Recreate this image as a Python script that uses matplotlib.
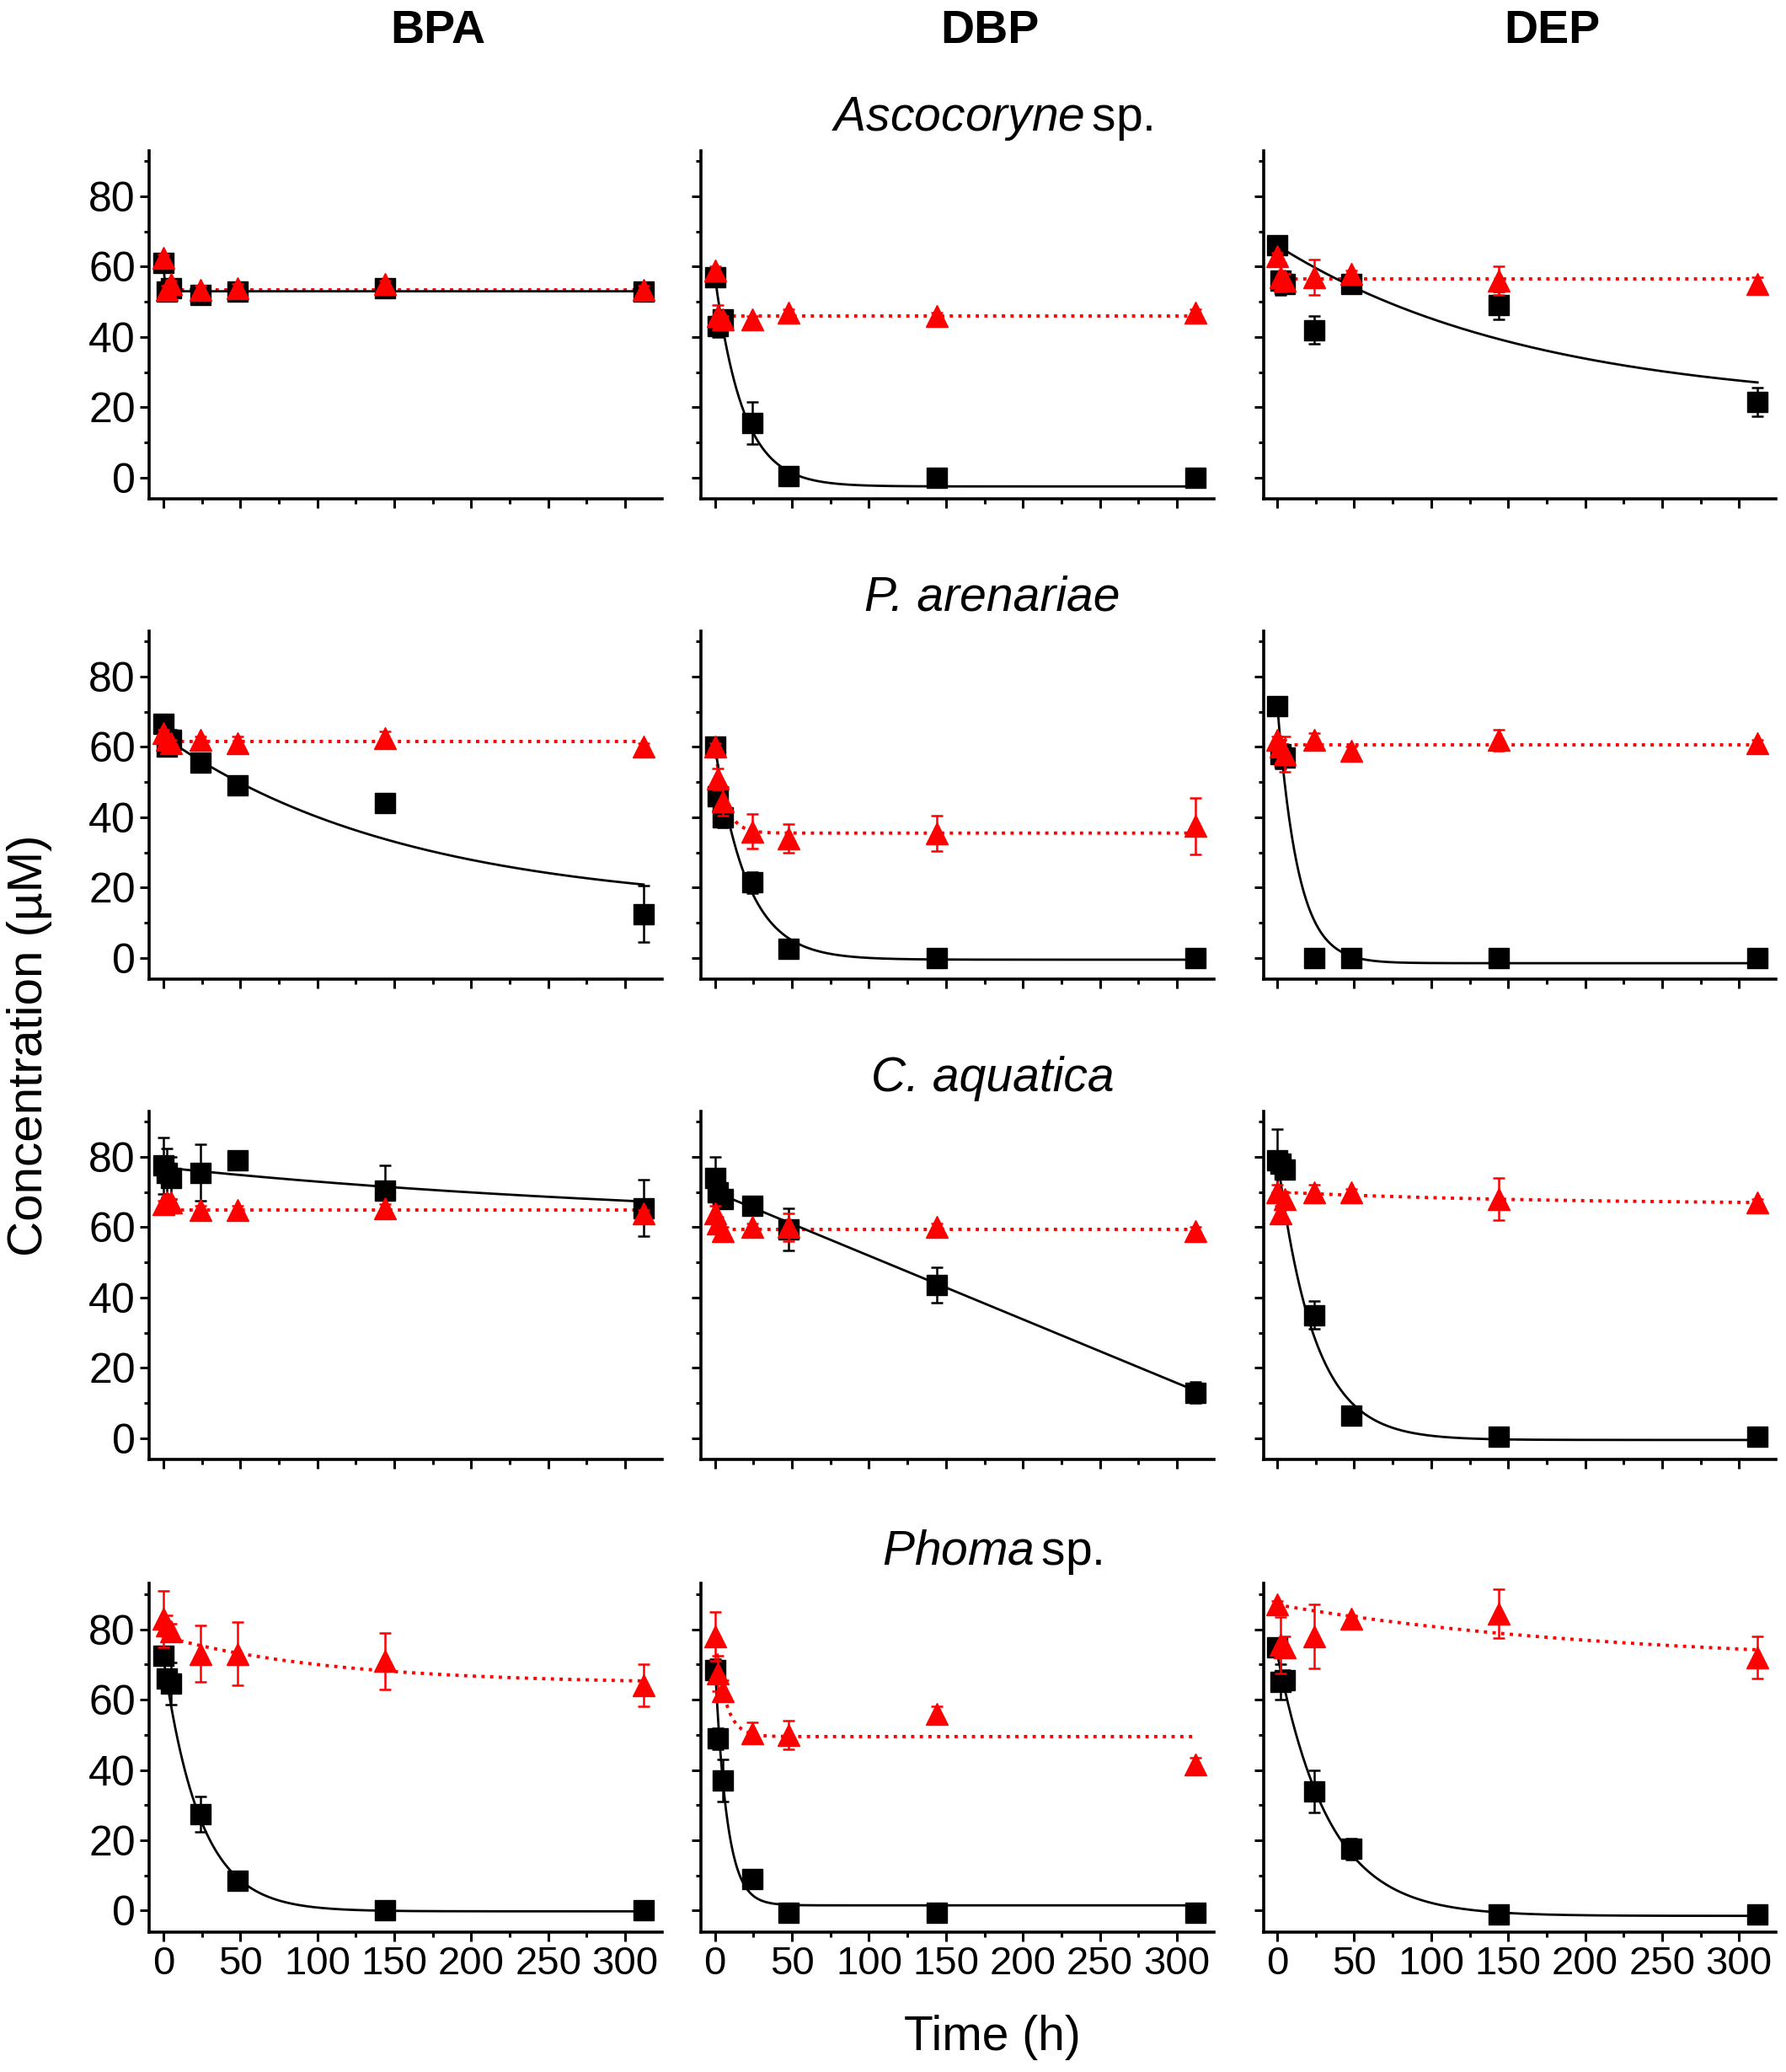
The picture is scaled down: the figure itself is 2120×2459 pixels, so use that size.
import numpy as np
import matplotlib.pyplot as plt
from matplotlib.ticker import MultipleLocator

plt.rcParams['font.family'] = ['Liberation Sans', 'DejaVu Sans']
plt.rcParams['mathtext.fontset'] = 'custom'
plt.rcParams['mathtext.it'] = 'Liberation Sans:italic'
plt.rcParams['mathtext.rm'] = 'Liberation Sans'

# sampling times (h)
times = [0, 2, 5, 24, 48, 144, 312]

compounds = ['BPA', 'DBP', 'DEP']
species = [r'$\mathit{Ascocoryne}\,$sp.', 'P. arenariae',
           'C. aquatica', r'$\mathit{Phoma}\,$sp.']
species_italic = [False, True, True, False]

# black squares = culture, red triangles = control
# fits: (start value, plateau, rate k, linear slope)

# --- Ascocoryne sp. ---
asco_bpa_black = [61, 53, 54, 52, 53, 54, 53]
asco_bpa_black_err = [1.5, 1, 1, 1, 1, 1, 1]
asco_bpa_red = [62.5, 53.5, 55, 53.5, 54, 55, 53.5]
asco_bpa_red_err = [1, 1, 1, 1, 1, 1, 1]
asco_bpa_fit_black = (61, 53, 1.0, 0)
asco_bpa_fit_red = (53.5, 53.5, 0, 0)

asco_dbp_black = [57, 43, 45, 15.5, 0.5, 0, 0]
asco_dbp_black_err = [1, 3, 2, 6, 0.5, 0.5, 0.5]
asco_dbp_red = [59, 46, 45, 45, 47, 46, 47]
asco_dbp_red_err = [1, 3, 1, 1, 1, 1, 1]
asco_dbp_fit_black = (57, -2.5, 0.055, 0)
asco_dbp_fit_red = (46, 46, 0, 0)

asco_dep_black = [66, 56, 55, 42, 55, 49, 21.5]
asco_dep_black_err = [1, 4, 2, 4, 1, 4, 4]
asco_dep_red = [63, 57, 56, 57, 58, 56, 55]
asco_dep_red_err = [1, 4, 2, 5, 1, 4, 2]
asco_dep_fit_black = (66, 20, 0.006, 0)
asco_dep_fit_red = (56.5, 56.5, 0, 0)

# --- P. arenariae ---
pare_bpa_black = [66.5, 60, 62, 55.5, 49, 44, 12.5]
pare_bpa_black_err = [1, 2, 3, 1, 1, 1, 8]
pare_bpa_red = [64, 62, 61, 62, 61, 62.5, 60]
pare_bpa_red_err = [1, 1, 1, 1, 2, 2, 1]
pare_bpa_fit_black = (63, 14, 0.0063, 0)
pare_bpa_fit_red = (61.5, 61.5, 0, 0)

pare_dbp_black = [60, 46, 40, 21.5, 2.5, 0, 0]
pare_dbp_black_err = [1, 4, 3, 3, 1, 0.5, 0.5]
pare_dbp_red = [60, 51, 44.5, 36, 34, 35.5, 37.5]
pare_dbp_red_err = [1, 3, 4, 5, 4, 5, 8]
pare_dbp_fit_black = (60, -0.5, 0.048, 0)
pare_dbp_fit_red = (60, 35.5, 0.15, 0)

pare_dep_black = [71.5, 58, 57, 0, 0, 0, 0]
pare_dep_black_err = [1, 4, 2, 0.5, 0.5, 0.5, 0.5]
pare_dep_red = [62, 60, 58, 62, 59, 62, 61]
pare_dep_red_err = [1, 2, 5, 2, 1, 3, 1]
pare_dep_fit_black = (72, -1.5, 0.075, 0)
pare_dep_fit_red = (60.5, 60.5, 0, 0)

# --- C. aquatica ---
caq_bpa_black = [77.5, 75.5, 74, 75.5, 79, 70.5, 65.5]
caq_bpa_black_err = [8, 7, 6, 8, 1, 7, 8]
caq_bpa_red = [66.5, 67, 67, 65, 65, 65.5, 64]
caq_bpa_red_err = [1, 1, 1, 1, 1, 1, 1]
caq_bpa_fit_black = (77, 60, 0.0027, 0)
caq_bpa_fit_red = (65, 65, 0, 0)

caq_dbp_black = [74, 70, 68, 66, 59.5, 43.5, 13]
caq_dbp_black_err = [6, 3, 2, 1, 6, 5, 3]
caq_dbp_red = [64, 61, 59, 60, 60, 60, 59]
caq_dbp_red_err = [2, 2, 1, 1, 4, 1, 1]
caq_dbp_fit_black = (70, 70, 0, -0.181)
caq_dbp_fit_red = (59.5, 59.5, 0, 0)

caq_dep_black = [79, 78, 76.5, 35, 6.5, 0.5, 0.5]
caq_dep_black_err = [9, 3, 2, 4, 1.5, 0.5, 0.5]
caq_dep_red = [70, 64, 68, 70, 70, 68, 67]
caq_dep_red_err = [2, 2, 2, 2, 1, 6, 1]
caq_dep_fit_black = (80, -0.5, 0.042, 0)
caq_dep_fit_red = (70, 66.5, 0.006, 0)

# --- Phoma sp. ---
phoma_bpa_black = [72.5, 66, 64.5, 27.5, 8.5, 0, 0]
phoma_bpa_black_err = [2, 2, 6, 5, 1, 0.5, 0.5]
phoma_bpa_red = [83, 81, 79.5, 73, 73, 71, 64]
phoma_bpa_red_err = [8, 3, 2, 8, 9, 8, 6]
phoma_bpa_fit_black = (72, -0.2, 0.042, 0)
phoma_bpa_fit_red = (78, 64.5, 0.009, 0)

phoma_dbp_black = [68.5, 49, 37, 9, -0.5, -0.5, -0.5]
phoma_dbp_black_err = [3, 3, 6, 1, 0.5, 0.5, 0.5]
phoma_dbp_red = [78, 67.5, 62.5, 50.5, 50, 56, 41.5]
phoma_dbp_red_err = [7, 5, 3, 3, 4, 2, 2]
phoma_dbp_fit_black = (70, 1.5, 0.13, 0)
phoma_dbp_fit_red = (78, 49.5, 0.15, 0)

phoma_dep_black = [75, 65, 65.5, 34, 17.5, -1, -1]
phoma_dep_black_err = [1, 5, 3, 6, 3, 0.5, 0.5]
phoma_dep_red = [87, 75.5, 75, 78, 83, 84.5, 72]
phoma_dep_red_err = [1, 8, 3, 9, 1, 7, 6]
phoma_dep_fit_black = (73, -1.5, 0.03, 0)
phoma_dep_fit_red = (87, 70, 0.0045, 0)

panels = [
    [(asco_bpa_black, asco_bpa_black_err, asco_bpa_red, asco_bpa_red_err, asco_bpa_fit_black, asco_bpa_fit_red),
     (asco_dbp_black, asco_dbp_black_err, asco_dbp_red, asco_dbp_red_err, asco_dbp_fit_black, asco_dbp_fit_red),
     (asco_dep_black, asco_dep_black_err, asco_dep_red, asco_dep_red_err, asco_dep_fit_black, asco_dep_fit_red)],
    [(pare_bpa_black, pare_bpa_black_err, pare_bpa_red, pare_bpa_red_err, pare_bpa_fit_black, pare_bpa_fit_red),
     (pare_dbp_black, pare_dbp_black_err, pare_dbp_red, pare_dbp_red_err, pare_dbp_fit_black, pare_dbp_fit_red),
     (pare_dep_black, pare_dep_black_err, pare_dep_red, pare_dep_red_err, pare_dep_fit_black, pare_dep_fit_red)],
    [(caq_bpa_black, caq_bpa_black_err, caq_bpa_red, caq_bpa_red_err, caq_bpa_fit_black, caq_bpa_fit_red),
     (caq_dbp_black, caq_dbp_black_err, caq_dbp_red, caq_dbp_red_err, caq_dbp_fit_black, caq_dbp_fit_red),
     (caq_dep_black, caq_dep_black_err, caq_dep_red, caq_dep_red_err, caq_dep_fit_black, caq_dep_fit_red)],
    [(phoma_bpa_black, phoma_bpa_black_err, phoma_bpa_red, phoma_bpa_red_err, phoma_bpa_fit_black, phoma_bpa_fit_red),
     (phoma_dbp_black, phoma_dbp_black_err, phoma_dbp_red, phoma_dbp_red_err, phoma_dbp_fit_black, phoma_dbp_fit_red),
     (phoma_dep_black, phoma_dep_black_err, phoma_dep_red, phoma_dep_red_err, phoma_dep_fit_black, phoma_dep_fit_red)],
]


def fit_curve(fit, t):
    y0, plateau, k, slope = fit
    return plateau + (y0 - plateau) * np.exp(-k * t) + slope * t


fig = plt.figure(figsize=(21.2, 24.59), dpi=100)

col_left = [0.0837, 0.3926, 0.7074]
row_bottom = [0.7593, 0.5275, 0.2957, 0.0677]
w, h = 0.287, 0.168
tt = np.linspace(0, max(times), 400)

for r in range(4):
    for c in range(3):
        black, black_err, red, red_err, fit_b, fit_r = panels[r][c]
        ax = fig.add_axes([col_left[c], row_bottom[r], w, h])

        ax.plot(tt, fit_curve(fit_r, tt), color='red', ls=':', lw=2.8, zorder=2)
        ax.plot(tt, fit_curve(fit_b, tt), color='black', lw=2.0, zorder=3)
        ax.errorbar(times, black, yerr=black_err, fmt='s', color='black', ms=17.5,
                    capsize=5, elinewidth=1.8, capthick=1.8, zorder=4)
        ax.errorbar(times, red, yerr=red_err, fmt='^', color='red', ms=19,
                    capsize=5, elinewidth=1.8, capthick=1.8, zorder=5)

        ax.set_xlim(-9, 324)
        ax.set_ylim(-6, 93)
        ax.xaxis.set_major_locator(MultipleLocator(50))
        ax.xaxis.set_minor_locator(MultipleLocator(25))
        ax.yaxis.set_major_locator(MultipleLocator(20))
        ax.yaxis.set_minor_locator(MultipleLocator(10))

        for side in ['top', 'right']:
            ax.spines[side].set_visible(False)
        for side in ['left', 'bottom']:
            ax.spines[side].set_linewidth(2.6)

        ax.tick_params(which='major', direction='out', length=8, width=2.2, pad=4)
        ax.tick_params(which='minor', direction='out', length=4.5, width=2.2)
        ax.tick_params(axis='y', labelsize=36)
        ax.tick_params(axis='x', labelsize=34)
        ax.tick_params(labelleft=(c == 0), labelbottom=(r == 3))

# column headers
for c, name in enumerate(compounds):
    fig.text(col_left[c] + w / 2 + 0.018, 0.985, name, ha='center', va='center',
             fontsize=40, fontweight='bold')

# species titles
title_y = [0.9425, 0.7114, 0.4796, 0.251]
for r, name in enumerate(species):
    fig.text(0.5556, title_y[r], name, ha='center', va='center', fontsize=41,
             style='italic' if species_italic[r] else 'normal')

fig.text(0.0163, 0.4955, 'Concentration (µM)', rotation=90, ha='center',
         va='center', fontsize=42)
fig.text(0.5556, 0.0166, 'Time (h)', ha='center', va='center', fontsize=41)

fig.savefig('out.png', dpi=100)
